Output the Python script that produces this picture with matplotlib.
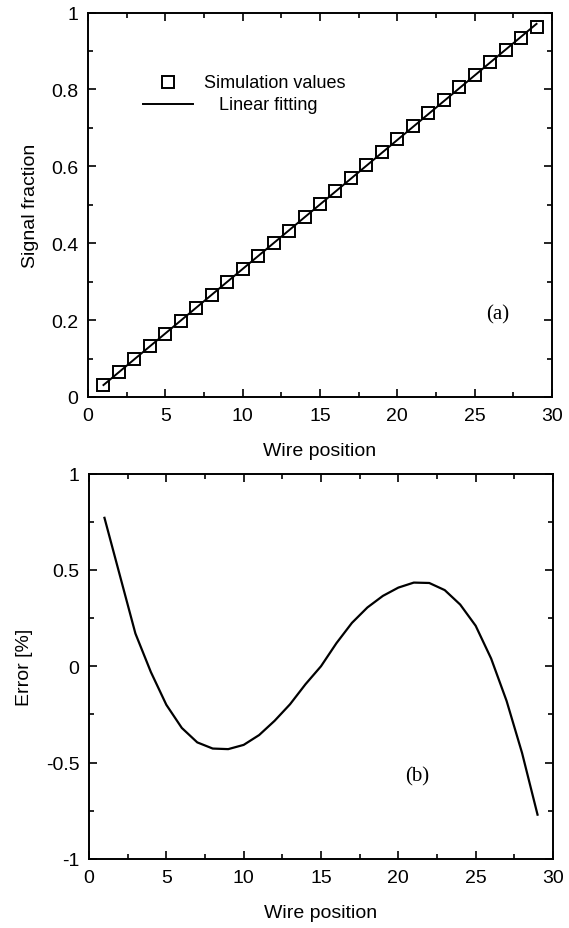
import matplotlib
matplotlib.use("Agg")
import matplotlib.pyplot as plt
from matplotlib.ticker import MultipleLocator, FuncFormatter

plt.rcParams['font.family'] = ['Liberation Sans', 'DejaVu Sans']

# ---- data ----
wire_pos = [1, 2, 3, 4, 5, 6, 7, 8, 9, 10, 11, 12, 13, 14, 15,
            16, 17, 18, 19, 20, 21, 22, 23, 24, 25, 26, 27, 28, 29]
sim_values = [0.031, 0.065, 0.098, 0.132, 0.165, 0.198, 0.231, 0.265, 0.298, 0.332,
              0.366, 0.400, 0.433, 0.467, 0.501, 0.535, 0.569, 0.603, 0.637, 0.671,
              0.705, 0.739, 0.772, 0.805, 0.838, 0.870, 0.902, 0.933, 0.963]
fit_x = [1, 29]
fit_y = [0.0311, 0.9705]
error_pct = [0.77, 0.47, 0.17, -0.03, -0.20, -0.32, -0.395, -0.427, -0.43, -0.408,
             -0.357, -0.283, -0.197, -0.093, 0.0, 0.12, 0.225, 0.305, 0.365, 0.408,
             0.434, 0.432, 0.395, 0.32, 0.21, 0.04, -0.18, -0.45, -0.77]

W, H = 569, 929
fig = plt.figure(figsize=(W / 100, H / 100), dpi=100)

def axes_px(l, t, r, b):
    return fig.add_axes([l / W, 1 - b / H, (r - l) / W, (b - t) / H])

ax1 = axes_px(88, 13.5, 552, 398)
ax2 = axes_px(89, 474.5, 553, 860)

fmt = FuncFormatter(lambda v, p: ('%g' % round(v, 3)))

for ax in (ax1, ax2):
    for s in ax.spines.values():
        s.set_linewidth(1.4)
    ax.tick_params(which='both', direction='in', top=True, right=True,
                   width=1.2, labelsize=14)
    ax.tick_params(which='major', length=6, pad=7)
    ax.tick_params(which='minor', length=3.5)
    ax.set_xlim(0, 30)
    ax.xaxis.set_major_locator(MultipleLocator(5))
    ax.xaxis.set_minor_locator(MultipleLocator(2.5))
    ax.xaxis.set_major_formatter(fmt)
    ax.yaxis.set_major_formatter(fmt)
    ax.set_xlabel('Wire position', fontsize=14, labelpad=13)

# --- panel (a) ---
ax1.set_ylim(0, 1)
ax1.yaxis.set_major_locator(MultipleLocator(0.2))
ax1.yaxis.set_minor_locator(MultipleLocator(0.1))
ax1.plot(fit_x, fit_y, color='black', lw=1.4)
ax1.plot(wire_pos, sim_values, linestyle='none', marker='s', ms=8,
         mfc='none', mec='black', mew=1.4)
ax1.set_ylabel('Signal fraction', fontsize=14, labelpad=9)
ax1.text(26.5, 0.216, '(a)', family=['Liberation Serif', 'DejaVu Serif'],
         fontsize=15, ha='center', va='center')
# legend drawn by hand to match layout
ax1.plot([0.172], [0.818], transform=ax1.transAxes, marker='s', ms=8,
         mfc='none', mec='black', mew=1.4, linestyle='none')
ax1.text(0.250, 0.818, 'Simulation values', transform=ax1.transAxes,
         fontsize=13, va='center', ha='left')
ax1.plot([0.119, 0.226], [0.761, 0.761], transform=ax1.transAxes,
         color='black', lw=1.4)
ax1.text(0.282, 0.761, 'Linear fitting', transform=ax1.transAxes,
         fontsize=13, va='center', ha='left')

# --- panel (b) ---
ax2.set_ylim(-1, 1)
ax2.yaxis.set_major_locator(MultipleLocator(0.5))
ax2.yaxis.set_minor_locator(MultipleLocator(0.25))
ax2.plot(wire_pos, error_pct, color='black', lw=1.6)
ax2.set_ylabel('Error [%]', fontsize=14, labelpad=9)
ax2.text(21.25, -0.568, '(b)', family=['Liberation Serif', 'DejaVu Serif'],
         fontsize=15, ha='center', va='center')

fig.savefig('out.png', dpi=100)
